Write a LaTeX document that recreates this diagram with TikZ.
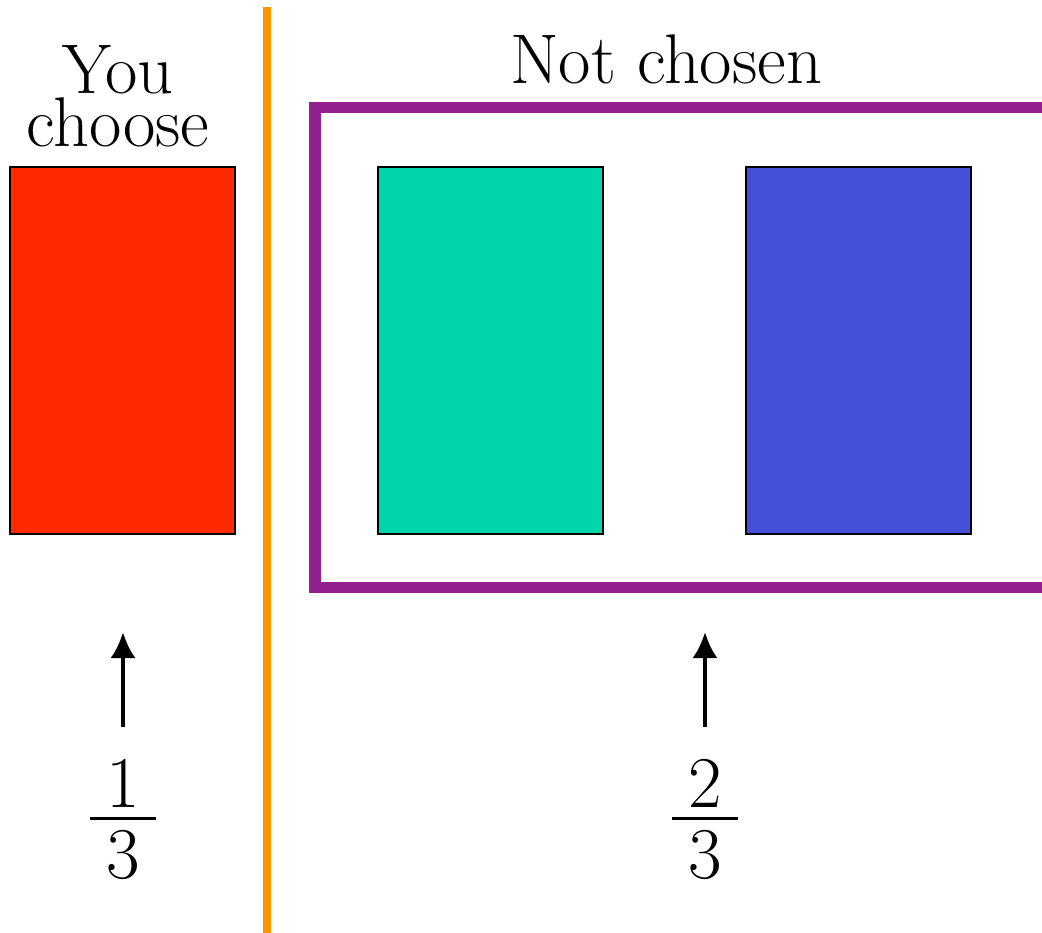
\documentclass[tikz,border=0pt]{standalone}
\usepackage{amsmath}
\usetikzlibrary{arrows.meta}
\definecolor{doorred}{RGB}{255,42,0}
\definecolor{doorteal}{RGB}{0,212,170}
\definecolor{doorblue}{RGB}{68,80,216}
\definecolor{splitorange}{RGB}{255,148,0}
\definecolor{boxpurple}{RGB}{146,32,142}

\begin{document}
\begin{tikzpicture}[x=0.01cm,y=-0.01cm,
  door/.style={draw=black,line width=0.6pt,minimum width=2.25cm,minimum height=3.67cm,inner sep=0pt},
  caption/.style={font=\fontsize{20}{14}\selectfont,inner sep=0pt},
  prob/.style={font=\fontsize{20}{24}\selectfont,inner sep=0pt,anchor=north},
  pointer/.style={-{Latex[length=0.26cm,width=0.25cm]},line width=1.2pt,shorten <=0.33cm}]
\useasboundingbox (0,0) rectangle (1042,933);
% doors
\node[door,fill=doorred] (you) at (122.5,350.5) {};
\node[door,fill=doorteal] (other1) at (490.5,350.5) {};
\node[door,fill=doorblue] (other2) at (858.5,350.5) {};
% split and box round the others
\draw[splitorange,line width=2.3pt] (267,7) -- (267,933);
\draw[boxpurple,line width=3.4pt] (1042,107.5) -- (315,107.5) -- (315,587.5) -- (1042,587.5);
% labels
\node[caption,align=center,anchor=south] (youlabel) at (118,148) {You\\choose};
\node[caption,anchor=base] (notlabel) at (666,83) {Not chosen};
% odds
\node[prob] (p1) at (123,760) {$\frac{\textstyle\:1\:}{\textstyle\rule{0pt}{0.8em}3}$};
\node[prob] (p2) at (705,760) {$\frac{\textstyle\:2\:}{\textstyle\rule{0pt}{0.8em}3}$};
\coordinate (p1tip) at (123,632);
\coordinate (p2tip) at (705,632);
\draw[pointer] (p1) -- (p1tip);
\draw[pointer] (p2) -- (p2tip);
\end{tikzpicture}
\end{document}
